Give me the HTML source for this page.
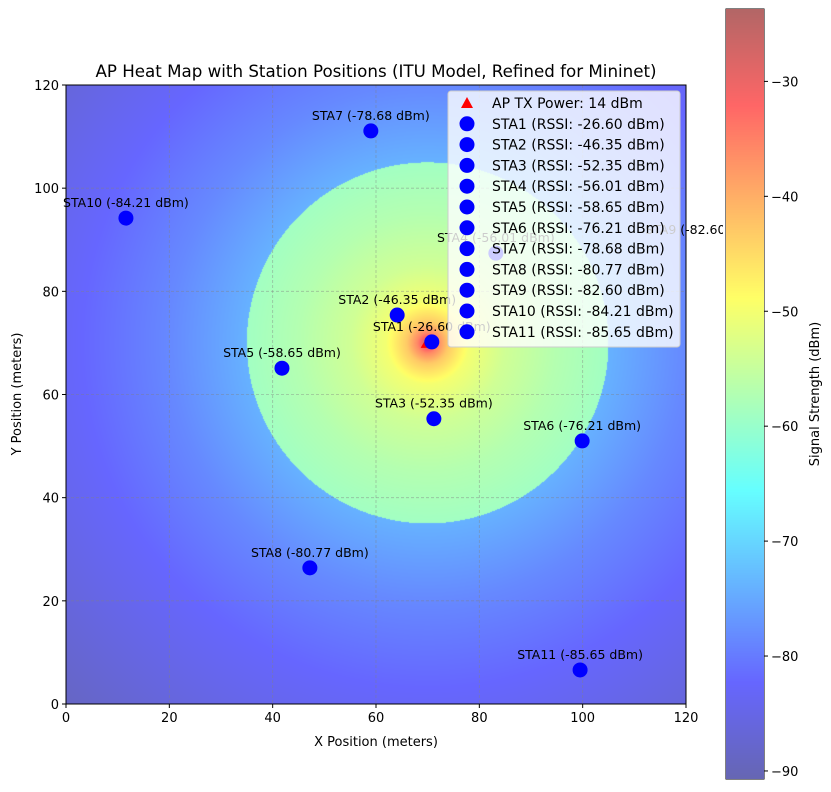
<!DOCTYPE html>
<html><head><meta charset="utf-8">
<style>
body{margin:0;background:#fff;}
#wrap{position:relative;width:831px;height:792px;overflow:hidden;font-family:"DejaVu Sans","Liberation Sans",sans-serif;}
canvas,svg{position:absolute;left:0;top:0;}
#cbar{z-index:2}
</style></head>
<body>
<div id="wrap">
<canvas id="heat" width="620" height="619" style="left:66px;top:85px"></canvas>
<canvas id="cbar" width="38" height="770" style="left:726px;top:9px"></canvas>
<svg id="svg" width="831" height="792"></svg>
</div>
<script>
// ---- data ----
const apPos = [70, 70];
const stationNames = ["STA1","STA2","STA3","STA4","STA5","STA6","STA7","STA8","STA9","STA10","STA11"];
const stationX = [70.8, 64.1, 71.2, 83.2, 41.8, 99.9, 59.0, 47.2, 123.5, 11.6, 99.5];
const stationY = [70.2, 75.4, 55.3, 87.4, 65.1, 51.0, 111.1, 26.4, 89.0, 94.2, 6.6];
const stationRssi = ["-26.60","-46.35","-52.35","-56.01","-58.65","-76.21","-78.68","-80.77","-82.60","-84.21","-85.65"];
const innerDist = [0, 1, 2, 4, 8, 15, 25, 35];
const innerDbm = [-24, -30, -36, -43, -50, -54, -57, -59];
const outerDist = [35, 50, 70, 100, 140];
const outerDbm = [-74, -78.5, -83, -89, -95];
const xTicks = [0, 20, 40, 60, 80, 100, 120];
const yTicks = [0, 20, 40, 60, 80, 100, 120];
const cbTicks = [-30, -40, -50, -60, -70, -80, -90];
const vmin = -90.7, vmax = -23.7, circleR = 35;

// ---- axes ----
const PX0 = 66, PX1 = 686, PY0 = 704, PY1 = 85;
const sx = v => PX0 + v / 120 * (PX1 - PX0);
const sy = v => PY0 - v / 120 * (PY0 - PY1);
const CB0 = 9, CB1 = 779;
const cy = v => CB0 + (vmax - v) / (vmax - vmin) * (CB1 - CB0);

function jet(t){
  t = Math.max(0, Math.min(1, t));
  const c = x => Math.max(0, Math.min(1, x));
  const r = c(1.5 - Math.abs(4*t - 3)), g = c(1.5 - Math.abs(4*t - 2)), b = c(1.5 - Math.abs(4*t - 1));
  const a = 0.6;
  return [r, g, b].map(v => Math.round(255 * (v * a + (1 - a))));
}
function interp(xs, ys, x){
  if (x <= xs[0]) return ys[0];
  for (let i = 1; i < xs.length; i++) if (x <= xs[i]) {
    const f = (x - xs[i-1]) / (xs[i] - xs[i-1]); return ys[i-1] + f * (ys[i] - ys[i-1]);
  }
  return ys[ys.length - 1];
}
function field(d){ return d <= circleR ? interp(innerDist, innerDbm, d) : interp(outerDist, outerDbm, d); }

(function(){
  const cv = document.getElementById('heat'), ctx = cv.getContext('2d');
  const W = cv.width, H = cv.height, img = ctx.createImageData(W, H);
  for (let j = 0; j < H; j++) for (let i = 0; i < W; i++) {
    const x = (i + 0.5) / W * 120, y = 120 - (j + 0.5) / H * 120;
    const d = Math.hypot(x - apPos[0], y - apPos[1]);
    const col = jet((field(d) - vmin) / (vmax - vmin));
    const k = (j * W + i) * 4;
    img.data[k] = col[0]; img.data[k+1] = col[1]; img.data[k+2] = col[2]; img.data[k+3] = 255;
  }
  ctx.putImageData(img, 0, 0);
  const cb = document.getElementById('cbar'), c2 = cb.getContext('2d');
  for (let j = 0; j < cb.height; j++) {
    const v = vmax - (j + 0.5) / cb.height * (vmax - vmin);
    const col = jet((v - vmin) / (vmax - vmin));
    c2.fillStyle = `rgb(${col[0]},${col[1]},${col[2]})`; c2.fillRect(0, j, cb.width, 1);
  }
})();

const NS = "http://www.w3.org/2000/svg", svg = document.getElementById('svg');
function mk(tag, attrs, parent, text){
  const e = document.createElementNS(NS, tag);
  for (const k in attrs) e.setAttribute(k, attrs[k]);
  if (text !== undefined) e.textContent = text;
  (parent || svg).appendChild(e); return e;
}
const defs = mk('defs', {});
const cp = mk('clipPath', {id: 'plotclip'}, defs);
mk('rect', {x: PX0, y: PY1, width: PX1 - PX0, height: PY0 - PY1}, cp);

xTicks.forEach(v => {
  const l = mk('line', {x1: sx(v), x2: sx(v), y1: PY1, y2: PY0, stroke: '#808080', 'stroke-opacity': 0.5, 'stroke-dasharray': '3,2', 'stroke-width': 0.8});
   
});
yTicks.forEach(v => {
  const l = mk('line', {x1: PX0, x2: PX1, y1: sy(v), y2: sy(v), stroke: '#808080', 'stroke-opacity': 0.5, 'stroke-dasharray': '3,2', 'stroke-width': 0.8});
   
});

const apx = sx(apPos[0]), apy = sy(apPos[1]);
const ap = mk('polygon', {points: `${apx},${apy-7} ${apx-7},${apy+5} ${apx+7},${apy+5}`, fill: 'red'});
 

const g = mk('g', {'clip-path': 'url(#plotclip)'});
stationNames.forEach((n, i) => {
  const c = mk('circle', {cx: sx(stationX[i]), cy: sy(stationY[i]), r: 7.5, fill: '#0000ff'}, g);
   
});
stationNames.forEach((n, i) => {
  const t = mk('text', {x: sx(stationX[i]), y: sy(stationY[i]) - 11, 'text-anchor': 'middle', 'font-size': 12.5, fill: '#000'}, svg, `${n} (${stationRssi[i]} dBm)`);
   
});

const fr = mk('rect', {x: PX0, y: PY1, width: PX1 - PX0, height: PY0 - PY1, fill: 'none', stroke: '#000', 'stroke-width': 1});
 
xTicks.forEach(v => {
  mk('line', {x1: sx(v), x2: sx(v), y1: PY0, y2: PY0 + 4, stroke: '#000'});
  const t = mk('text', {x: sx(v), y: PY0 + 18, 'text-anchor': 'middle', 'font-size': 13}, svg, String(v));
   
});
yTicks.forEach(v => {
  mk('line', {x1: PX0 - 4, x2: PX0, y1: sy(v), y2: sy(v), stroke: '#000'});
  const t = mk('text', {x: PX0 - 7, y: sy(v) + 5, 'text-anchor': 'end', 'font-size': 13}, svg, String(v));
   
});

const lg = mk('g', {});
 
mk('rect', {x: 448, y: 91, width: 232, height: 256, rx: 3, fill: '#fff', 'fill-opacity': 0.8, stroke: '#cccccc', 'stroke-width': 1}, lg);
const rowY = i => 103 + i * 20.8;
mk('polygon', {points: `467,${rowY(0)-6} 461,${rowY(0)+5} 473,${rowY(0)+5}`, fill: 'red'}, lg);
const t0 = mk('text', {x: 492, y: rowY(0) + 5, 'font-size': 14}, lg, 'AP TX Power: 14 dBm');
 
stationNames.forEach((n, i) => {
  const y = rowY(i + 1);
  mk('circle', {cx: 467, cy: y, r: 7.5, fill: '#0000ff'}, lg);
  const t = mk('text', {x: 492, y: y + 5, 'font-size': 14}, lg, `${n} (RSSI: ${stationRssi[i]} dBm)`);
   
});

const cbw = mk('rect', {x: 723, y: 0, width: 108, height: 792, fill: '#fff'});
 
const cbf = mk('rect', {x: 726, y: CB0, width: 38, height: CB1 - CB0, fill: 'none', stroke: '#000', 'stroke-width': 1});
 
cbTicks.forEach(v => {
  mk('line', {x1: 764, x2: 768, y1: cy(v), y2: cy(v), stroke: '#000'});
  const t = mk('text', {x: 771, y: cy(v) + 5, 'font-size': 13}, svg, '\u2212' + Math.abs(v));
   
});

let t;
t = mk('text', {x: 376, y: 77, 'text-anchor': 'middle', 'font-size': 16.7}, svg, 'AP Heat Map with Station Positions (ITU Model, Refined for Mininet)');
 
t = mk('text', {x: 376, y: 746, 'text-anchor': 'middle', 'font-size': 13}, svg, 'X Position (meters)');
 
t = mk('text', {x: 0, y: 0, 'text-anchor': 'middle', 'font-size': 13, transform: 'translate(21,394) rotate(-90)'}, svg, 'Y Position (meters)');
 
t = mk('text', {x: 0, y: 0, 'text-anchor': 'middle', 'font-size': 13, transform: 'translate(819,394) rotate(-90)'}, svg, 'Signal Strength (dBm)');
 
</script>
</body></html>
